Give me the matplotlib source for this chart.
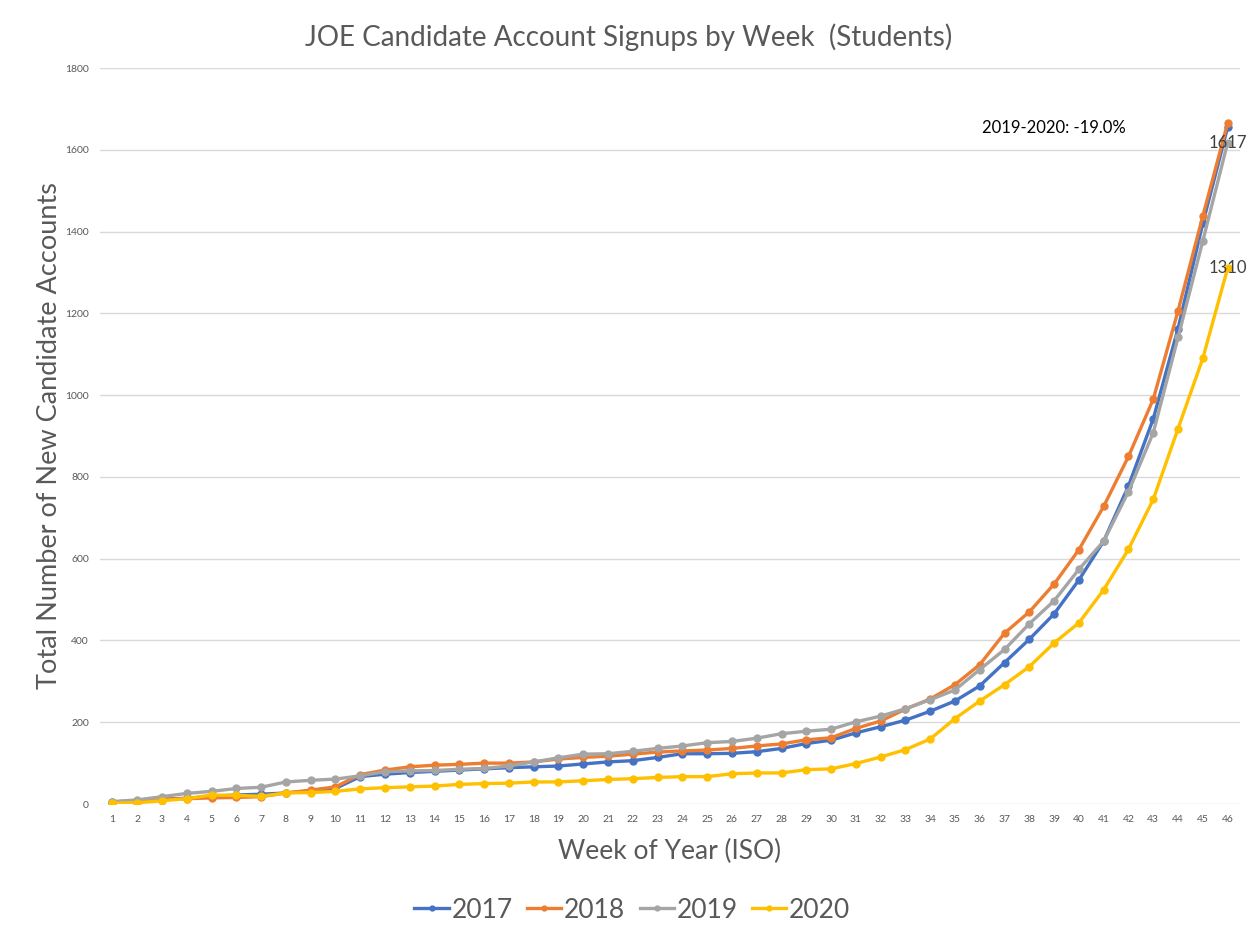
import matplotlib.pyplot as plt

plt.rcParams['font.family'] = ['Lato', 'DejaVu Sans']

weeks = list(range(1, 47))

y2017 = [5, 8, 12, 14, 19, 22, 24, 27, 32, 38, 67, 73, 77, 80, 83, 86, 89, 91, 93, 98,
         103, 106, 114, 123, 123, 124, 128, 136, 148, 156, 174, 189, 205, 227, 252, 289,
         346, 403, 465, 548, 643, 778, 942, 1163, 1420, 1655]
y2018 = [3, 6, 12, 13, 15, 16, 18, 27, 34, 42, 72, 83, 91, 95, 97, 100, 100, 103, 110, 114,
         117, 122, 127, 130, 132, 136, 142, 147, 157, 162, 185, 203, 232, 257, 292, 341,
         418, 470, 538, 622, 728, 850, 990, 1206, 1438, 1665]
y2019 = [6, 10, 18, 26, 31, 38, 41, 54, 58, 61, 69, 79, 81, 82, 85, 87, 93, 103, 113, 122,
         123, 129, 136, 142, 150, 153, 161, 172, 178, 183, 201, 215, 233, 255, 279, 329,
         378, 441, 497, 574, 643, 764, 908, 1141, 1377, 1617]
y2020 = [2, 3, 8, 13, 22, 21, 19, 27, 28, 31, 37, 40, 42, 44, 48, 50, 51, 54, 54, 57,
         60, 62, 65, 67, 67, 74, 76, 76, 84, 86, 99, 115, 133, 159, 209, 252,
         292, 336, 394, 443, 524, 623, 745, 918, 1090, 1310]

series = [('2017', y2017, '#4472C4'),
          ('2018', y2018, '#ED7D31'),
          ('2019', y2019, '#A5A5A5'),
          ('2020', y2020, '#FFC000')]

note = '2019-2020: -19.0%'
txt_col = '#595959'

fig = plt.figure(figsize=(12.52, 9.36), dpi=100)
ax = fig.add_axes([0.0799, 0.141, 0.9105, 0.7863])

for name, vals, col in series:
    ax.plot(weeks, vals, color=col, lw=2.4, marker='o', ms=5, label=name)

# end labels for 2019 and 2020
ax.text(weeks[-1], y2019[-1], str(y2019[-1]), ha='center', va='center',
        fontsize=12, color='#404040')
ax.text(weeks[-1], y2020[-1], str(y2020[-1]), ha='center', va='center',
        fontsize=12, color='#404040')
ax.text(39, 1653, note, ha='center', va='center', fontsize=12, color='black')

ax.set_xlim(0.5, 46.5)
ax.set_ylim(0, 1800)
ax.set_xticks(weeks)
ax.set_yticks(range(0, 1801, 200))
ax.tick_params(axis='both', length=0, labelsize=7.5, colors=txt_col)
ax.tick_params(axis='x', pad=8)
ax.tick_params(axis='y', pad=8)
ax.grid(axis='y', color='#D9D9D9', lw=1)
ax.set_axisbelow(True)
for s in ax.spines.values():
    s.set_visible(False)

fig.text(629 / 1252, 1 - 37 / 936, 'JOE Candidate Account Signups by Week  (Students)',
         ha='center', va='center', fontsize=20, color=txt_col)
ax.set_xlabel('Week of Year (ISO)', fontsize=19, color=txt_col, labelpad=11)
ax.set_ylabel('Total Number of New Candidate Accounts', fontsize=19.5, color=txt_col,
              labelpad=2)

leg = ax.legend(loc='upper center', bbox_to_anchor=(0.467, -0.095), ncol=4,
                frameon=False, fontsize=19, handlelength=1.3, handletextpad=0.1,
                columnspacing=0.55, markerscale=0.7)
for t in leg.get_texts():
    t.set_color(txt_col)

fig.savefig('out.png', dpi=100)
